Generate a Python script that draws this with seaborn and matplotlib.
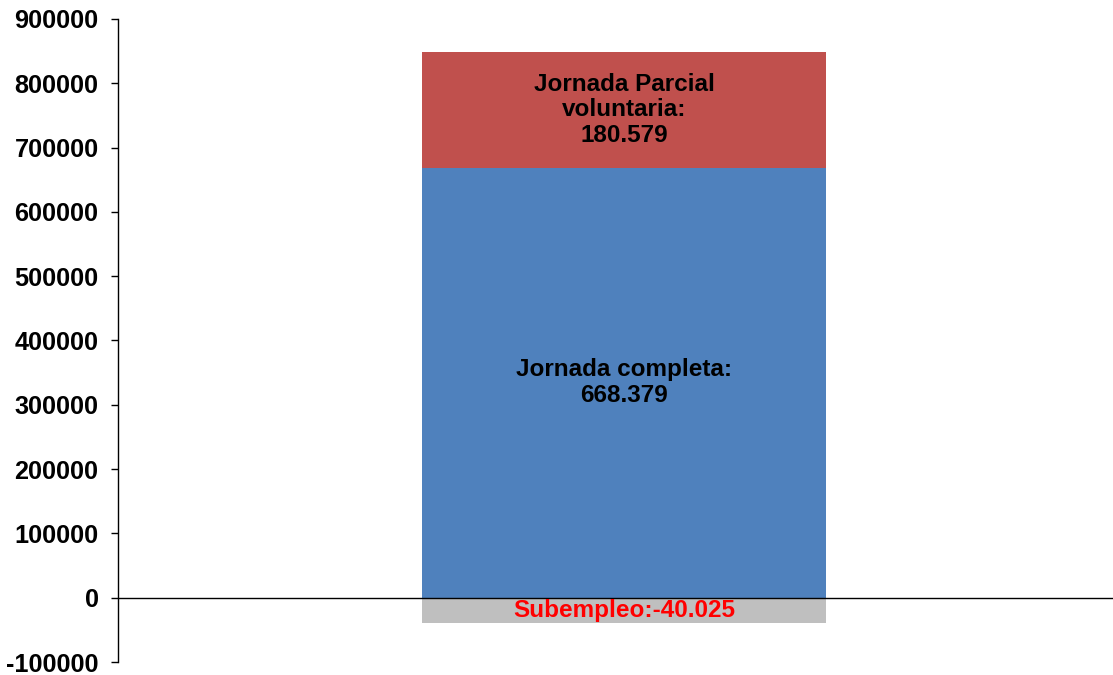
import matplotlib
matplotlib.use("Agg")
import matplotlib.pyplot as plt
import seaborn as sns
import pandas as pd

categories = ["Total"]
jornada_completa = [668379]
jornada_parcial = [180579]
subempleo = [-40025]
label_completa = "Jornada completa:\n668.379"
label_parcial = "Jornada Parcial\nvoluntaria:\n180.579"
label_sub = "Subempleo:-40.025"
yticks = list(range(-100000, 900001, 100000))

sns.set_theme(style="white")
plt.rcParams['font.family'] = ['Liberation Sans', 'DejaVu Sans']

fig = plt.figure(figsize=(11.13, 6.75), dpi=100)
ax = fig.add_axes([118/1113, 1 - 662/675, 1 - 118/1113, (662 - 19)/675])

bw = 0.406
df = pd.DataFrame({"cat": categories, "completa": jornada_completa,
                   "parcial": jornada_parcial, "sub": subempleo})
sns.barplot(data=df, x="cat", y="completa", color="#4F81BD", width=bw,
            saturation=1, ax=ax, linewidth=0)
sns.barplot(data=df, x="cat", y="parcial", color="#C0504D", width=bw,
            saturation=1, ax=ax, linewidth=0, bottom=df["completa"])
sns.barplot(data=df, x="cat", y="sub", color="#BFBFBF", width=bw,
            saturation=1, ax=ax, linewidth=0)

ax.axhline(0, color="black", lw=1.0, zorder=5)

fs = 17.5
for i in range(len(categories)):
    c = jornada_completa[i]; p = jornada_parcial[i]; s = subempleo[i]
    ax.text(i, c / 2, label_completa, ha="center", va="center",
            fontsize=fs, fontweight="bold", color="black", linespacing=1.15)
    ax.text(i, c + p / 2, label_parcial, ha="center", va="center",
            fontsize=fs, fontweight="bold", color="black", linespacing=1.15)
    ax.text(i, s / 2, label_sub, ha="center", va="center",
            fontsize=fs, fontweight="bold", color="#FF0000", zorder=6)

ax.set_xlim(-0.5085, 0.4915)
ax.set_ylim(-100000, 900000)
ax.set_yticks(yticks)
ax.set_yticklabels([str(v) for v in yticks], fontsize=18.2, fontweight="bold")
ax.set_xticks([])
ax.set_xlabel("")
ax.set_ylabel("")
for sp in ["top", "right", "bottom"]:
    ax.spines[sp].set_visible(False)
ax.spines["left"].set_color("black")
ax.spines["left"].set_linewidth(1.0)
ax.tick_params(axis="y", direction="out", length=5, width=1, color="black",
               left=True, pad=9, labelcolor="black")
fig.savefig("out.png", dpi=100)
